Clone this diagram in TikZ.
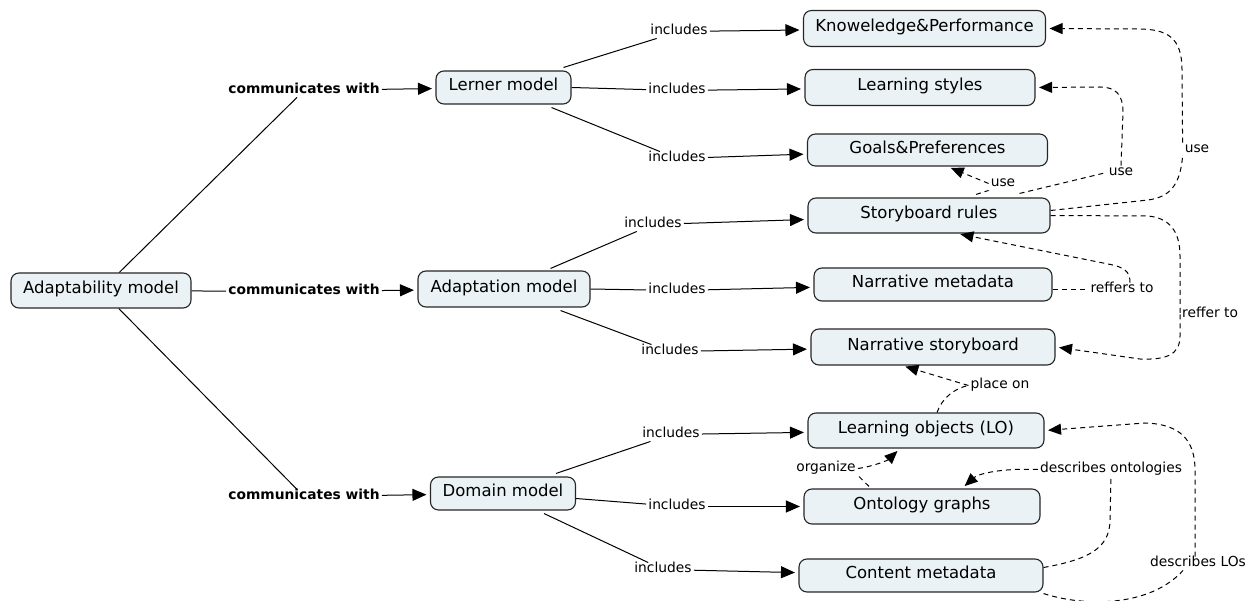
\documentclass[tikz,border=0pt]{standalone}
\usepackage{fontspec}
\setmainfont{DejaVu Sans}
\usetikzlibrary{arrows.meta}
\definecolor{boxfill}{RGB}{234,242,245}
\begin{document}
\begin{tikzpicture}[x=1pt,y=-1pt,
  concept/.style={draw=black!85, line width=1.1pt, rounded corners=8pt, fill=boxfill,
    font=\fontsize{16.5}{18}\selectfont, inner sep=0pt, text height=0.8em, text depth=0.15em},
  lbl/.style={font=\fontsize{13.8}{15}\selectfont, inner sep=2pt, text height=0.75em, text depth=0.2em, yshift=-1.5pt},
  blbl/.style={lbl, font=\bfseries\fontsize{13.8}{15}\selectfont},
  link/.style={line width=1pt, draw=black},
  arr/.style={-{Triangle[length=14pt,width=12pt]}, shorten >=3.5pt},
  darr/.style={-{Triangle[length=13pt,width=11pt]}, shorten >=3.5pt},
  dlink/.style={line width=1pt, draw=black, dash pattern=on 5pt off 4pt},
]
\useasboundingbox (0,0) rectangle (1253,601);

% concepts
\node[concept, minimum width=180pt, minimum height=35pt] (adm) at (101,290.5) {Adaptability model};
\node[concept, minimum width=135pt, minimum height=33pt] (lerner) at (503.5,87.5) {Lerner model};
\node[concept, minimum width=172pt, minimum height=36pt] (adapt) at (504,289) {Adaptation model};
\node[concept, minimum width=145pt, minimum height=33pt] (domain) at (503,493.5) {Domain model};

\node[concept, minimum width=242pt, minimum height=36pt] (kp) at (924.5,28.5) {Knoweledge\&Performance};
\node[concept, minimum width=230pt, minimum height=36pt] (ls) at (920,87.5) {Learning styles};
\node[concept, minimum width=240pt, minimum height=32pt] (gp) at (927.5,150) {Goals\&Preferences};
\node[concept, minimum width=242pt, minimum height=35pt] (sr) at (929,215.5) {Storyboard rules};
\node[concept, minimum width=238pt, minimum height=33pt] (nm) at (933,284.5) {Narrative metadata};
\node[concept, minimum width=244pt, minimum height=36pt] (ns) at (933,347) {Narrative storyboard};
\node[concept, minimum width=236pt, minimum height=35pt] (lo) at (926,430.5) {Learning objects (LO)};
\node[concept, minimum width=236pt, minimum height=35pt] (og) at (922,506.5) {Ontology graphs};
\node[concept, minimum width=244pt, minimum height=33pt] (cm) at (921,575.5) {Content metadata};

% linking phrases
\node[blbl] (c1) at (304,89) {communicates with};
\node[blbl] (c2) at (304,290) {communicates with};
\node[blbl] (c3) at (304,495) {communicates with};

\node[lbl] (i1) at (679,30) {includes};
\node[lbl] (i2) at (677,89) {includes};
\node[lbl] (i3) at (677,157) {includes};
\node[lbl] (i4) at (653,223) {includes};
\node[lbl] (i5) at (677,289) {includes};
\node[lbl] (i6) at (670,350) {includes};
\node[lbl] (i7) at (671,433) {includes};
\node[lbl] (i8) at (677,505) {includes};
\node[lbl] (i9) at (663,568) {includes};

\node[lbl] (u1) at (1197,148) {use};
\node[lbl] (u2) at (1121,171) {use};
\node[lbl] (u3) at (1003,182) {use};
\node[lbl] (r1) at (1122,288) {reffers to};
\node[lbl, anchor=west] (r2) at (1180,313) {reffer to};
\node[lbl] (p1) at (1000,384) {place on};
\node[lbl] (o1) at (826,467) {organize};
\node[lbl] (d1) at (1111,468) {describes ontologies};
\node[lbl] (d2) at (1198,562) {describes LOs};

% communicates with
\draw[link] (adm) -- (c1);
\draw[link, arr] (c1) -- (lerner);
\draw[link] (adm) -- (c2);
\draw[link, arr] (c2) -- (adapt);
\draw[link] (adm) -- (c3);
\draw[link, arr] (c3) -- (domain);

% includes
\draw[link] ([xshift=-8pt,yshift=3pt]lerner.north east) -- (i1);
\draw[link, arr] (i1) -- (kp);
\draw[link] (lerner.east) -- (i2);
\draw[link, arr] (i2) -- (ls);
\draw[link] ([xshift=-20pt,yshift=-3pt]lerner.south east) -- (i3);
\draw[link, arr] (i3) -- (gp);

\draw[link] ([xshift=-40pt,yshift=2pt]adapt.north east) -- (i4);
\draw[link, arr] (i4) -- (sr);
\draw[link] (adapt.east) -- (i5);
\draw[link, arr] (i5) -- (nm);
\draw[link] ([xshift=-30pt,yshift=-3pt]adapt.south east) -- (i6);
\draw[link, arr] (i6) -- (ns);

\draw[link] ([xshift=-20pt,yshift=3pt]domain.north east) -- (i7);
\draw[link, arr] (i7) -- (lo);
\draw[link] ([yshift=-5pt]domain.east) -- (i8);
\draw[link, arr] (i8) -- (og);
\draw[link] ([xshift=-32pt,yshift=-3pt]domain.south east) -- (i9);
\draw[link, arr] (i9) -- (cm);

% use -> Knoweledge&Performance
\draw[dlink] ([yshift=5pt]sr.east) -- (1148,200) .. controls (1170,197) and (1180,185) .. (u1.south west);
\draw[dlink, darr] (u1.north west) -- (1182,70) .. controls (1182,38) and (1168,29) .. (1138,29) -- (kp.east);
% use -> Learning styles
\draw[dlink] ([xshift=-31pt,yshift=4pt]sr.north east) -- (u2.west);
\draw[dlink, darr] (u2.north) -- (1123,112) .. controls (1123,95) and (1116,87) .. (1100,87) -- (ls.east);
% use -> Goals&Preferences
\draw[dlink] ([xshift=47pt,yshift=3pt]sr.north) -- (u3.south west);
\draw[dlink, darr] (u3.west) -- ([xshift=20pt]gp.south);
% reffer to -> Narrative storyboard
\draw[dlink] (sr.east) -- (1148,216) .. controls (1170,218) and (1180,232) .. (1180,256) -- (r2.west);
\draw[dlink, darr] (r2.west) -- (1180,336) .. controls (1180,355) and (1166,360) .. (1140,359) -- (ns.east);
% reffers to -> Storyboard rules
\draw[dlink] (nm.east |- r1) -- (r1.west);
\draw[dlink, darr] ([xshift=8pt]r1.north) .. controls (1130,271) and (1124,267) .. (1108,264) -- ([xshift=28pt]sr.south);
% place on
\draw[dlink] ([xshift=11pt]lo.north) .. controls (942,398) and (955,388) .. (p1.west);
\draw[dlink, darr] (p1.west) -- ([xshift=-31pt]ns.south);
% organize
\draw[dlink] ([xshift=-53pt,yshift=2pt]og.north) -- (o1.south east);
\draw[dlink, darr] (o1.east) .. controls (875,466) and (888,460) .. ([xshift=-26pt]lo.south);
% describes ontologies
\draw[dlink] ([yshift=8pt]cm.east) .. controls (1085,560) and (1110,550) .. (1110,520) -- (d1.south);
\draw[dlink, darr] (d1.west) .. controls (1000,468) and (978,474) .. ([xshift=40pt]og.north);
% describes LOs
\draw[dlink] ([yshift=-1pt]cm.south east) .. controls (1085,607) and (1150,607) .. ([xshift=-15pt]d2.south);
\draw[dlink, darr] ([xshift=-3pt]d2.north) -- (1195,470) .. controls (1195,440) and (1180,424) .. (1145,423) -- (lo.east);
\end{tikzpicture}
\end{document}
